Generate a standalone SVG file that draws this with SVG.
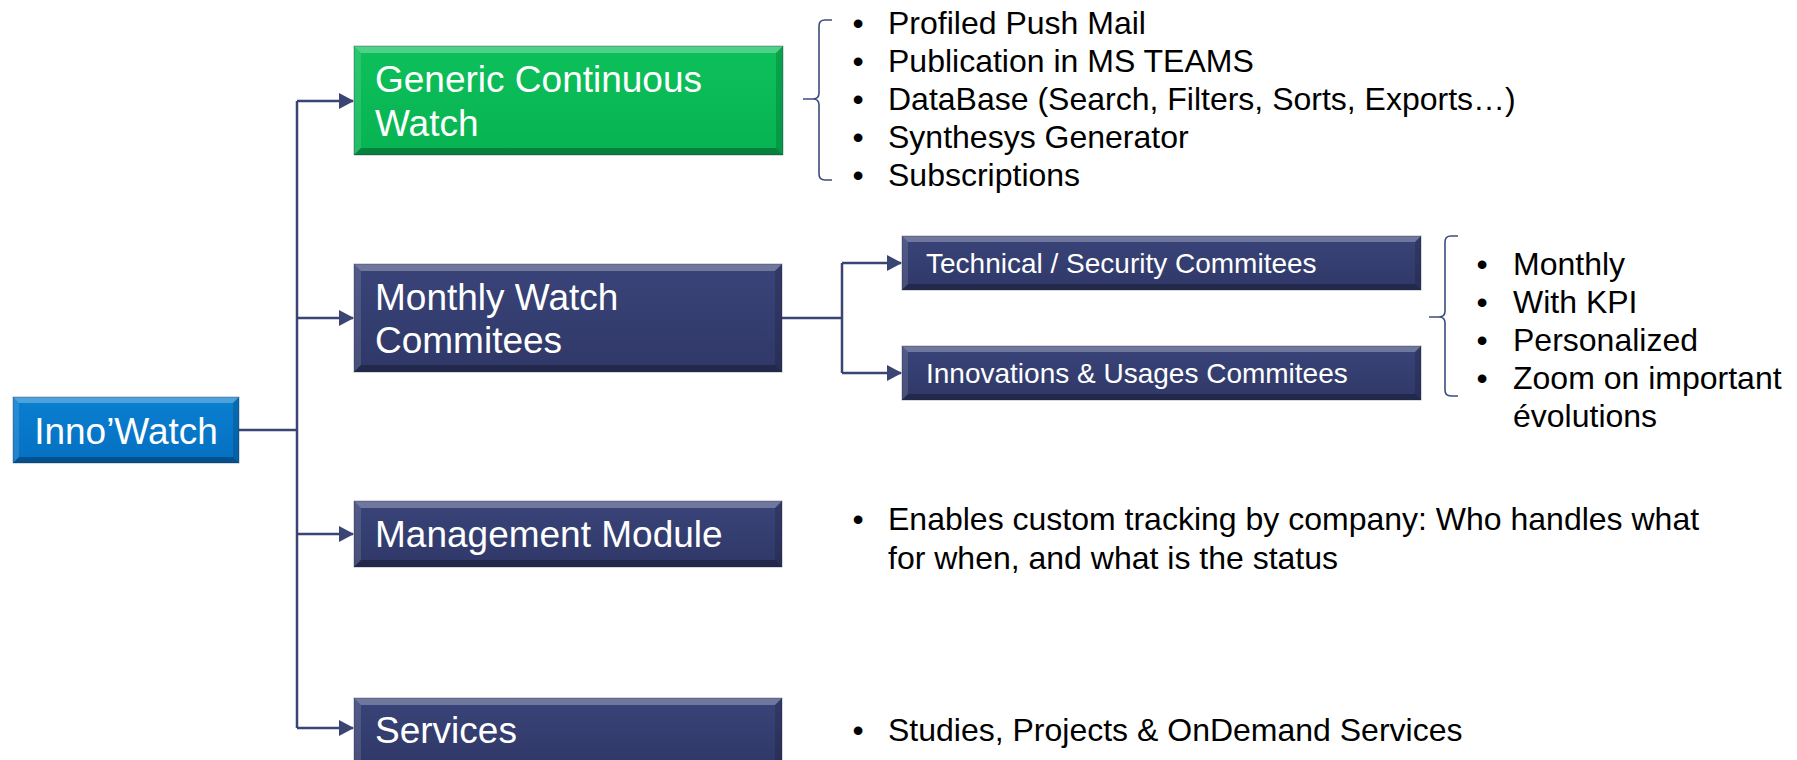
<svg xmlns="http://www.w3.org/2000/svg" width="1797" height="760" viewBox="0 0 1797 760">
<style>
.bx{font-family:"Liberation Sans",Arial,sans-serif;fill:#ffffff}
.t37{font-size:37px}
.t28{font-size:28px}
.bl{font-family:"Liberation Sans",Arial,sans-serif;font-size:32px;fill:#000000}
.con{fill:none;stroke:#3B4573;stroke-width:2.5}
.brk{fill:none;stroke:#3B4C80;stroke-width:1.6}
.hl{fill:#ffffff;opacity:0.28}
.hl2{fill:#ffffff;opacity:0.12}
.dk{fill:#000000;opacity:0.28}
.dk2{fill:#000000;opacity:0.15}
.edge{fill:none;stroke:#1c2140;stroke-opacity:0.35;stroke-width:1}
</style>
<defs>
<linearGradient id="gNavy" x1="0" y1="0" x2="0" y2="1"><stop offset="0" stop-color="#3A4479"/><stop offset="1" stop-color="#2F3867"/></linearGradient>
<linearGradient id="gGreen" x1="0" y1="0" x2="0" y2="1"><stop offset="0" stop-color="#0DC05A"/><stop offset="1" stop-color="#07B352"/></linearGradient>
<linearGradient id="gBlue" x1="0" y1="0" x2="0" y2="1"><stop offset="0" stop-color="#0A7FD0"/><stop offset="1" stop-color="#0570C2"/></linearGradient>
<marker id="arr" markerWidth="16" markerHeight="16" refX="14" refY="8" orient="auto" markerUnits="userSpaceOnUse"><path d="M0,0 L15,8 L0,16 Z" fill="#3B4573"/></marker>
</defs>
<rect width="1797" height="760" fill="#ffffff"/>

<g id="connectors">
<path class="con" d="M239,430 H297"/>
<path class="con" d="M297,101 V728"/>
<path class="con" d="M297,101 H353" marker-end="url(#arr)"/>
<path class="con" d="M297,318 H353" marker-end="url(#arr)"/>
<path class="con" d="M297,534 H353" marker-end="url(#arr)"/>
<path class="con" d="M297,728 H353" marker-end="url(#arr)"/>
<path class="con" d="M782,318 H842"/>
<path class="con" d="M842,263 V373"/>
<path class="con" d="M842,263 H901" marker-end="url(#arr)"/>
<path class="con" d="M842,373 H901" marker-end="url(#arr)"/>
</g>

<g id="node-innowatch">
<rect x="13" y="397" width="226" height="66" fill="url(#gBlue)"/>
<polygon class="hl" points="13,397 239,397 233,403 19,403"/>
<polygon class="hl2" points="13,397 19,403 19,457 13,463"/>
<polygon class="dk" points="13,463 239,463 233,457 19,457"/>
<polygon class="dk2" points="239,397 239,463 233,457 233,403"/>
<rect class="edge" x="13" y="397" width="226" height="66"/>
<text class="bx t37" x="126" y="444" text-anchor="middle">Inno’Watch</text>
</g>

<g id="node-generic">
<rect x="354" y="46" width="429" height="109" fill="url(#gGreen)"/>
<polygon class="hl" points="354,46 783,46 776,53 361,53"/>
<polygon class="hl2" points="354,46 361,53 361,148 354,155"/>
<polygon class="dk" points="354,155 783,155 776,148 361,148"/>
<polygon class="dk2" points="783,46 783,155 776,148 776,53"/>
<rect class="edge" x="354" y="46" width="429" height="109"/>
<text class="bx t37" x="375" y="92">Generic Continuous</text>
<text class="bx t37" x="375" y="136">Watch</text>
</g>

<g id="node-monthly">
<rect x="354" y="264" width="428" height="108" fill="url(#gNavy)"/>
<polygon class="hl" points="354,264 782,264 775,271 361,271"/>
<polygon class="hl2" points="354,264 361,271 361,365 354,372"/>
<polygon class="dk" points="354,372 782,372 775,365 361,365"/>
<polygon class="dk2" points="782,264 782,372 775,365 775,271"/>
<rect class="edge" x="354" y="264" width="428" height="108"/>
<text class="bx t37" x="375" y="310">Monthly Watch</text>
<text class="bx t37" x="375" y="353">Commitees</text>
</g>

<g id="node-technical">
<rect x="902" y="236" width="519" height="54" fill="url(#gNavy)"/>
<polygon class="hl" points="902,236 1421,236 1415,242 908,242"/>
<polygon class="hl2" points="902,236 908,242 908,284 902,290"/>
<polygon class="dk" points="902,290 1421,290 1415,284 908,284"/>
<polygon class="dk2" points="1421,236 1421,290 1415,284 1415,242"/>
<rect class="edge" x="902" y="236" width="519" height="54"/>
<text class="bx t28" x="926" y="273">Technical / Security Commitees</text>
</g>

<g id="node-innovations">
<rect x="902" y="346" width="519" height="54" fill="url(#gNavy)"/>
<polygon class="hl" points="902,346 1421,346 1415,352 908,352"/>
<polygon class="hl2" points="902,346 908,352 908,394 902,400"/>
<polygon class="dk" points="902,400 1421,400 1415,394 908,394"/>
<polygon class="dk2" points="1421,346 1421,400 1415,394 1415,352"/>
<rect class="edge" x="902" y="346" width="519" height="54"/>
<text class="bx t28" x="926" y="383">Innovations &amp; Usages Commitees</text>
</g>

<g id="node-management">
<rect x="354" y="501" width="428" height="66" fill="url(#gNavy)"/>
<polygon class="hl" points="354,501 782,501 775,508 361,508"/>
<polygon class="hl2" points="354,501 361,508 361,560 354,567"/>
<polygon class="dk" points="354,567 782,567 775,560 361,560"/>
<polygon class="dk2" points="782,501 782,567 775,560 775,508"/>
<rect class="edge" x="354" y="501" width="428" height="66"/>
<text class="bx t37" x="375" y="547">Management Module</text>
</g>

<g id="node-services">
<rect x="354" y="698" width="428" height="66" fill="url(#gNavy)"/>
<polygon class="hl" points="354,698 782,698 775,705 361,705"/>
<polygon class="hl2" points="354,698 361,705 361,764 354,764"/>
<polygon class="dk2" points="782,698 782,764 775,764 775,705"/>
<rect class="edge" x="354" y="698" width="428" height="66"/>
<text class="bx t37" x="375" y="743">Services</text>
</g>

<g id="list-generic">
<path class="brk" d="M832,20 H825 Q819,20 819,26 V93 Q819,99 813,99 H803 H813 Q819,99 819,105 V174 Q819,180 825,180 H832"/>
<g class="bl">
<text x="858" y="34" text-anchor="middle">•</text><text x="888" y="34">Profiled Push Mail</text>
<text x="858" y="72" text-anchor="middle">•</text><text x="888" y="72">Publication in MS TEAMS</text>
<text x="858" y="110" text-anchor="middle">•</text><text x="888" y="110">DataBase (Search, Filters, Sorts, Exports…)</text>
<text x="858" y="148" text-anchor="middle">•</text><text x="888" y="148">Synthesys Generator</text>
<text x="858" y="186" text-anchor="middle">•</text><text x="888" y="186">Subscriptions</text>
</g>
</g>

<g id="list-monthly">
<path class="brk" d="M1458,236 H1451 Q1445,236 1445,242 V311 Q1445,317 1439,317 H1429 H1439 Q1445,317 1445,323 V390 Q1445,396 1451,396 H1458"/>
<g class="bl">
<text x="1482" y="275" text-anchor="middle">•</text><text x="1513" y="275">Monthly</text>
<text x="1482" y="313" text-anchor="middle">•</text><text x="1513" y="313">With KPI</text>
<text x="1482" y="351" text-anchor="middle">•</text><text x="1513" y="351">Personalized</text>
<text x="1482" y="389" text-anchor="middle">•</text><text x="1513" y="389">Zoom on important</text>
<text x="1513" y="427">évolutions</text>
</g>
</g>

<g id="list-management" class="bl">
<text x="858" y="530" text-anchor="middle">•</text><text x="888" y="530">Enables custom tracking by company: Who handles what</text>
<text x="888" y="569">for when, and what is the status</text>
</g>

<g id="list-services" class="bl">
<text x="858" y="741" text-anchor="middle">•</text><text x="888" y="741">Studies, Projects &amp; OnDemand Services</text>
</g>
</svg>
